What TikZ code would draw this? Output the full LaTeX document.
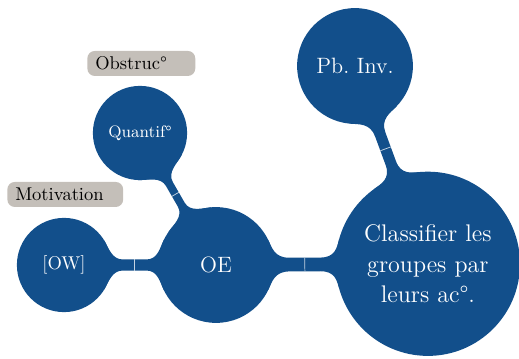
\documentclass[tikz,border=0pt]{standalone}
\usepackage{tikz}
\usetikzlibrary{calc,backgrounds}
\definecolor{mm}{RGB}{18,79,139}
\definecolor{tagbg}{RGB}{196,191,185}
% bar between two circles: from, radius, to, radius, half neck
\newcommand\linkbar[5]{%
  \fill[mm] let \p1=(#1.center), \p2=(#3.center),
    \n1={atan2(\y2-\y1,\x2-\x1)}, \n2={veclen(\x2-\x1,\y2-\y1)},
    \n3={\n2-#2-#4}, \n4={asin(0.48cm/#2)}, \n5={asin(0.48cm/#4)} in
    ($(\p1)+(\n1+\n4:#2)$)
      .. controls +(\n1+\n4-90:0.18cm) and +(\n1+180:0.24*\n3) ..
    ($(\p1)+(\n1:#2+0.25*\n3)+(\n1+90:#5)$)
      -- ($(\p1)+(\n1:\n2-#4-0.25*\n3)+(\n1+90:#5)$)
      .. controls +(\n1:0.24*\n3) and +(\n1-\n5-90:0.18cm) ..
    ($(\p2)+(\n1+180-\n5:#4)$)
      -- ($(\p2)+(\n1+180+\n5:#4)$)
      .. controls +(\n1+\n5+90:0.18cm) and +(\n1:0.24*\n3) ..
    ($(\p1)+(\n1:\n2-#4-0.25*\n3)+(\n1-90:#5)$)
      -- ($(\p1)+(\n1:#2+0.25*\n3)+(\n1-90:#5)$)
      .. controls +(\n1+180:0.24*\n3) and +(\n1-\n4+90:0.18cm) ..
    ($(\p1)+(\n1-\n4:#2)$) -- cycle;
  \draw[seam] let \p1=(#1.center), \p2=(#3.center),
    \n1={atan2(\y2-\y1,\x2-\x1)}, \n2={veclen(\x2-\x1,\y2-\y1)},
    \n3={#2+0.5*(\n2-#2-#4)} in
    ($(\p1)+(\n1:\n3)+(\n1+90:#5)$) -- ($(\p1)+(\n1:\n3)+(\n1-90:#5)$);}

\begin{document}
\begin{tikzpicture}[
  idea/.style={circle, fill=mm, text=white, align=center, inner sep=0pt},
  ctr/.style={idea, minimum size=3.5cm, text width=2.8cm, font=\fontsize{13}{16.5}\selectfont},
  sub/.style={idea, minimum size=2.2cm, text width=2cm, font=\large},
  leaf/.style={idea, minimum size=1.79cm, text width=1.6cm, font=\normalsize},
  seam/.style={white!75!mm, line width=0.4pt},
  tag/.style={fill=tagbg, rounded corners=4pt, anchor=west, text width=#1, align=left,
    minimum height=0.475cm, inner xsep=0.15cm, inner ysep=0pt, font=\normalsize}]
\useasboundingbox (0,0) rectangle (9.861,6.802);
% ideas
\node[ctr] (cls) at (8.13,1.79) {Classifier les\\groupes par\\leurs ac°.};
\node[sub] (pb) at (6.745,5.548) {Pb.\ Inv.};
\node[sub] (oe) at (4.104,1.767) {OE};
\node[leaf] (ow) at (1.216,1.767) {[OW]};
\node[leaf,font=\small] (qt) at (2.66,4.275) {Quantif°};
% bars
\begin{scope}[on background layer]
\linkbar{cls}{1.75cm}{pb}{1.1cm}{0.105cm}
\linkbar{oe}{1.1cm}{cls}{1.75cm}{0.13cm}
\linkbar{oe}{1.1cm}{ow}{0.895cm}{0.105cm}
\linkbar{oe}{1.1cm}{qt}{0.895cm}{0.075cm}
\end{scope}
% notes
\node[tag=1.75cm] (obs) at (1.653,5.596) {Obstruc°};
\node[tag=1.9cm] (mot) at (0.133,3.107) {Motivation};
\end{tikzpicture}
\end{document}
